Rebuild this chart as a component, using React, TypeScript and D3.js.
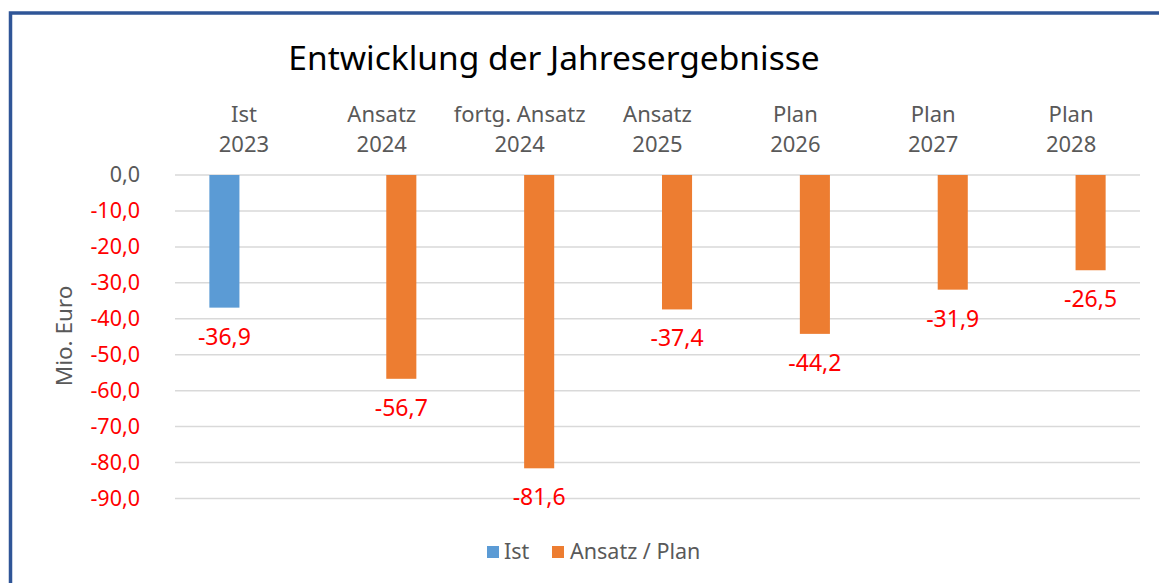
import * as d3 from "d3";

const categories = [
  ["Ist", "2023"],
  ["Ansatz", "2024"],
  ["fortg. Ansatz", "2024"],
  ["Ansatz", "2025"],
  ["Plan", "2026"],
  ["Plan", "2027"],
  ["Plan", "2028"],
];
const seriesNames = ["Ist", "Ansatz / Plan"];
const istValues: (number | null)[] = [-36.9, null, null, null, null, null, null];
const planValues: (number | null)[] = [null, -56.7, -81.6, -37.4, -44.2, -31.9, -26.5];
const yTicks = [0, -10, -20, -30, -40, -50, -60, -70, -80, -90];

const colors = ["#5B9BD5", "#ED7D31"];
const FONT = "'Noto Sans', 'Open Sans', sans-serif";
const fmt = (v: number) => v.toFixed(1).replace(".", ",");

export default function App() {
  const width = 1159;
  const height = 583;
  const plot = { left: 175, right: 1140, top: 175, bottom: 498.5 };

  const keys = categories.map((c) => c.join(" "));
  const x0 = d3.scaleBand().domain(keys).range([plot.left, plot.right]).padding(0);
  const x1 = d3
    .scaleBand()
    .domain(seriesNames)
    .range([0, x0.bandwidth()])
    .paddingInner(0.23)
    .paddingOuter(0.88);
  const y = d3.scaleLinear().domain([0, -90]).range([plot.top, plot.bottom]);

  const seriesData = [istValues, planValues];

  return (
    <svg
      width={width}
      height={height}
      style={{ position: "absolute", left: 0, top: 0, background: "#fff" }}
      fontFamily={FONT}
    >
      {/* frame */}
      <rect x={10.5} y={13} width={1200} height={620} fill="none" stroke="#2F5597" strokeWidth={3.5} />

      {/* title */}
      <text x={554} y={70} textAnchor="middle" fontSize={33.5} fill="#000">
        Entwicklung der Jahresergebnisse
      </text>

      {/* gridlines */}
      {yTicks.map((t) => (
        <line
          key={t}
          x1={plot.left}
          x2={plot.right}
          y1={y(t)}
          y2={y(t)}
          stroke="#D9D9D9"
          strokeWidth={1.5}
        />
      ))}

      {/* y tick labels */}
      {yTicks.map((t) => (
        <text
          key={"l" + t}
          x={140}
          y={y(t) + 7}
          textAnchor="end"
          fontSize={21.5}
          fill={t === 0 ? "#595959" : "#FF0000"}
        >
          {fmt(t)}
        </text>
      ))}

      {/* axis title */}
      <text
        transform={`translate(72,336) rotate(-90)`}
        textAnchor="middle"
        fontSize={22.5}
        fill="#595959"
      >
        Mio. Euro
      </text>

      {/* category labels */}
      {categories.map((c, i) => {
        const cx = (x0(keys[i]) ?? 0) + x0.bandwidth() / 2;
        return (
          <g key={keys[i]}>
            <text x={cx} y={122} textAnchor="middle" fontSize={22} fill="#595959">
              {c[0]}
            </text>
            <text x={cx} y={152} textAnchor="middle" fontSize={22} fill="#595959">
              {c[1]}
            </text>
          </g>
        );
      })}

      {/* bars + labels */}
      {seriesData.map((vals, si) =>
        vals.map((v, i) => {
          if (v == null) return null;
          const bx = (x0(keys[i]) ?? 0) + (x1(seriesNames[si]) ?? 0);
          const bw = x1.bandwidth();
          return (
            <g key={si + "-" + i}>
              <rect x={bx} y={y(0)} width={bw} height={y(v) - y(0)} fill={colors[si]} />
              <text
                x={bx + bw / 2}
                y={y(v) + 37}
                textAnchor="middle"
                fontSize={23}
                fill="#FF0000"
              >
                {fmt(v)}
              </text>
            </g>
          );
        })
      )}

      {/* legend */}
      <rect x={487} y={546} width={12} height={12} fill={colors[0]} />
      <text x={504} y={559} fontSize={21.5} fill="#595959">
        {seriesNames[0]}
      </text>
      <rect x={552} y={546} width={12} height={12} fill={colors[1]} />
      <text x={570} y={559} fontSize={21.5} fill="#595959">
        {seriesNames[1]}
      </text>
    </svg>
  );
}
